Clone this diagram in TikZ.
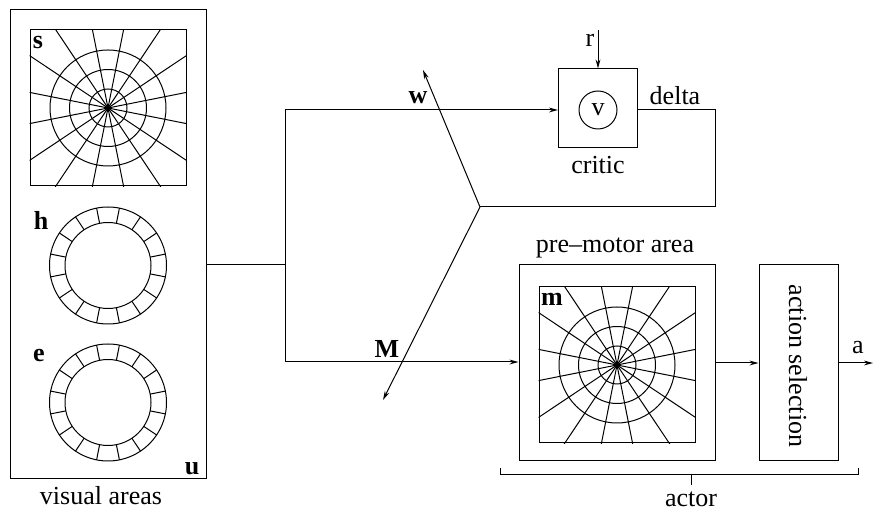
\documentclass[tikz,border=0pt]{standalone}
\usepackage{fontspec}
\setmainfont{Liberation Serif}
\usetikzlibrary{arrows.meta}

\tikzset{
  >={Stealth[length=4.5pt,width=2.4pt]},
  lbl/.style={inner sep=0pt},
  tag/.style={inner sep=0pt,font=\fontsize{13}{15}\selectfont\bfseries},
  area/.style={draw,inner sep=0pt,minimum size=78pt},
  box/.style={draw,inner sep=0pt},
}

\begin{document}
\begin{tikzpicture}[x=0.5pt,y=-0.5pt,line width=0.5pt,font=\fontsize{13}{15}\selectfont]
\useasboundingbox (0,0) rectangle (873,512);

% visual areas
\node[box,minimum width=98pt,minimum height=234.5pt] (vis) at (108,244.5) {};
\node[area] (s) at (108,108) {};
\begin{scope}
  \clip (s.south west) rectangle (s.north east);
  \foreach \r in {19,38.5,58} \draw (s.center) circle (\r);
  \foreach \k in {0,...,15} \draw (s.center) -- ++(11.25+22.5*\k:120);
\end{scope}
\foreach \cy in {265.5,402.5} {
  \draw (108,\cy) circle (43) circle (58.5);
  \foreach \k in {0,...,15} \draw (108,\cy) ++(11.25+22.5*\k:43) -- ++(11.25+22.5*\k:15.5);
}
\node[tag] (slbl) at (38,43) {s};
\node[tag] (hlbl) at (41,220) {h};
\node[tag] (elbl) at (39,356) {e};
\node[tag] (ulbl) at (192,469) {u};
\node[lbl] (vislbl) at (101,496) {visual areas};

% critic
\node[box,minimum size=39.5pt] (critic) at (598,108.5) {};
\node[draw,circle,inner sep=0pt,minimum size=19pt] (v) at (598,110) {v};
\node[lbl] (criticlbl) at (598,165) {critic};
\node[lbl] (rlbl) at (590,40) {r};
\coordinate (rtop) at (598,30);
\draw[->] (rtop) -- (critic.north);
\node[lbl] (deltalbl) at (675,96) {delta};

% pre-motor area and action selection
\node[box,minimum size=98pt] (pm) at (617,363) {};
\node[area] (m) at (617,365) {};
\begin{scope}
  \clip (m.south west) rectangle (m.north east);
  \foreach \r in {19,38.5,58} \draw (m.center) circle (\r);
  \foreach \k in {0,...,15} \draw (m.center) -- ++(11.25+22.5*\k:120);
\end{scope}
\node[tag] (mlbl) at (552,299) {m};
\node[lbl] (pmlbl) at (615,248) {pre--motor area};
\node[box,minimum width=39.5pt,minimum height=98pt] (act) at (798.5,363) {};
\node[lbl,rotate=-90] (actlbl) at (798,366) {action selection};
\node[lbl] (albl) at (858,348) {a};
\coordinate (aout) at (873,363);

% weights
\coordinate (split) at (285,265);
\coordinate (wtop) at (285,110);
\coordinate (mbot) at (285,362);
\coordinate (junc) at (480,207);
\coordinate (dturn) at (715,207);
\coordinate (wtip) at (423,70);
\coordinate (mtip) at (383,400);
\node[tag] (wlbl) at (418,98) {w};
\node[tag] (Mlbl) at (387,349) {M};

\draw (vis.east |- split) -- (split);
\draw (wtop) -- (mbot);
\draw[->] (wtop) -- (critic.west |- wtop);
\draw[->] (mbot) -- (pm.west |- mbot);
\draw (critic.east |- wtop) -| (dturn) -- (junc);
\draw[->] (junc) -- (wtip);
\draw[->] (junc) -- (mtip);
\draw[->] (pm.east) -- (act.west);
\draw[->] (act.east) -- (aout);

% actor
\draw (500,468) -- (500,475) -- (858,475) -- (858,468);
\draw (691,475) -- (691,485);
\node[lbl] (actorlbl) at (691,499) {actor};
\end{tikzpicture}
\end{document}
